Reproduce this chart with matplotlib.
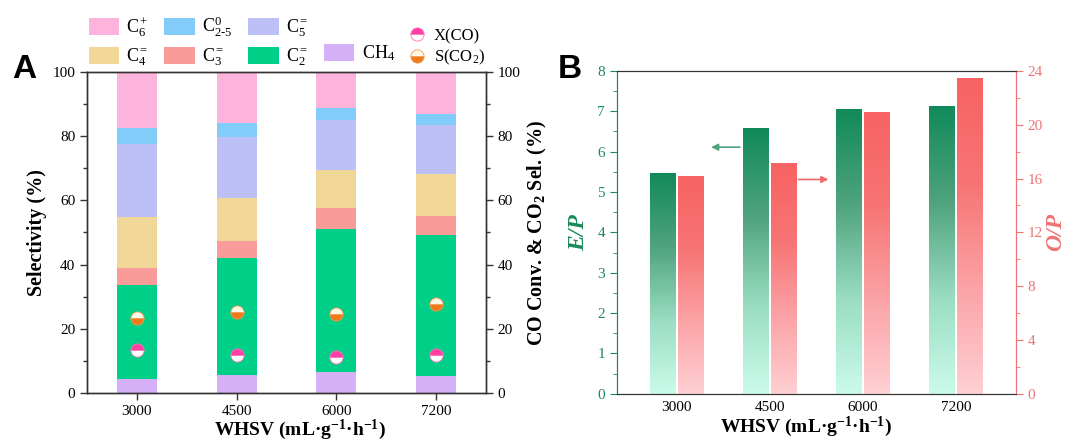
"""
Selectivity vs WHSV (panel A) and E/P, O/P ratios (panel B).
"""

import numpy as np
import matplotlib
matplotlib.use("Agg")
import matplotlib.pyplot as plt
from matplotlib.patches import Patch
from matplotlib.lines import Line2D
from matplotlib.colors import LinearSegmentedColormap

plt.rcParams['font.family'] = ['Liberation Serif', 'DejaVu Serif']
plt.rcParams['mathtext.fontset'] = 'custom'
plt.rcParams['mathtext.rm'] = 'Liberation Serif'
plt.rcParams['mathtext.it'] = 'Liberation Serif:italic'
plt.rcParams['mathtext.bf'] = 'Liberation Serif:bold'
plt.rcParams['mathtext.default'] = 'regular'

# ---- data ----
whsv = ['3000', '4500', '6000', '7200']

# panel A: selectivity segments (%), bottom to top
ch4 = [4.5, 5.7, 6.4, 5.4]
c2_ole = [29.0, 36.4, 44.7, 43.7]
c3_ole = [5.3, 5.4, 6.4, 6.0]
c4_ole = [16.0, 13.3, 11.9, 13.2]
c5_ole = [22.8, 19.1, 15.7, 15.2]
c25_par = [5.0, 4.3, 3.7, 3.5]
c6_plus = [17.4, 15.8, 11.3, 13.0]

x_co = [13.3, 11.7, 11.1, 11.7]
s_co2 = [23.4, 25.2, 24.7, 27.6]

# panel B
e_p = [5.45, 6.58, 7.04, 7.13]
o_p = [16.2, 17.1, 20.9, 23.45]

seg_names = ['CH$_4$', 'C$_2^{=}$', 'C$_3^{=}$', 'C$_4^{=}$', 'C$_5^{=}$',
             'C$_{2\u20105}^0$', 'C$_6^+$']
seg_vals = [ch4, c2_ole, c3_ole, c4_ole, c5_ole, c25_par, c6_plus]
seg_colors = ['#D5B0F7', '#00CF88', '#F99B98', '#F0D697', '#BCC0F7',
              '#82CCFA', '#FDB4DC']

dark = '#333333'
green = '#1B8A5A'
red = '#EE7474'
xlab = 'WHSV (mL\u00b7g$^{-1}$\u00b7h$^{-1}$)'

fig = plt.figure(figsize=(10.67, 4.43), dpi=100)

# ---------------- panel A ----------------
ax = fig.add_axes([0.0815, 0.1129, 0.374, 0.7246])
xa = np.arange(len(whsv))
bottom = np.zeros(len(whsv))
handles = {}
for name, vals, col in zip(seg_names, seg_vals, seg_colors):
    ax.bar(xa, vals, width=0.4, bottom=bottom, color=col, linewidth=0)
    bottom += np.array(vals)
    handles[name] = Patch(facecolor=col, edgecolor='none')

ax.set_xlim(-0.5, 3.5)
ax.set_ylim(0, 100)
ax.set_xticks(xa)
ax.set_xticklabels(whsv)
ax.set_yticks(np.arange(0, 101, 20))
ax.set_yticks(np.arange(10, 100, 20), minor=True)
ax.set_ylabel('Selectivity (%)', fontsize=14.5, fontweight='bold', labelpad=4)
ax.set_xlabel(xlab, fontsize=14, fontweight='bold')
ax.xaxis.set_label_coords(0.534, -0.078)

ax2 = ax.twinx()
ax2.set_ylim(0, 100)
ax2.set_yticks(np.arange(0, 101, 20))
ax2.set_yticks(np.arange(10, 100, 20), minor=True)
ax2.set_ylabel('CO Conv. & CO$_2$ Sel. (%)', fontsize=14.5,
               fontweight='bold', labelpad=4)
ax2.plot(xa, x_co, 'o', ms=9.5, fillstyle='top', color='#FF3FA4',
         markerfacecoloralt='white', mec='#FF6FBA', mew=0.6, zorder=5)
ax2.plot(xa, s_co2, 'o', ms=9.5, fillstyle='bottom', color='#EE7A1C',
         markerfacecoloralt='#FFF8E6', mec='#F29A50', mew=0.6, zorder=5)

for a in (ax, ax2):
    for s in a.spines.values():
        s.set_color(dark)
        s.set_linewidth(1.0)
    a.tick_params(which='both', direction='out', color=dark, labelsize=11,
                  width=1.0)
    a.tick_params(which='major', length=5)
    a.tick_params(which='minor', length=3)

# legend of segments (column-major, blank slot above CH4)
blank = Patch(facecolor='none', edgecolor='none')
order = ['C$_6^+$', 'C$_4^{=}$', 'C$_{2\u20105}^0$', 'C$_3^{=}$',
         'C$_5^{=}$', 'C$_2^{=}$', None, 'CH$_4$']
leg_h = [handles[k] if k else blank for k in order]
leg_l = [k if k else '' for k in order]
fig.legend(leg_h, leg_l, ncol=4, loc='upper left',
           bbox_to_anchor=(0.083, 0.967), frameon=False, fontsize=13,
           handlelength=1.7, handleheight=1.05, columnspacing=0.85,
           handletextpad=0.4, labelspacing=0.4, borderaxespad=0.0,
           borderpad=0.0)

mk_h = [Line2D([], [], ls='none', marker='o', ms=9.5, fillstyle='top',
               color='#FF3FA4', markerfacecoloralt='white', mec='#FF6FBA',
               mew=0.6),
        Line2D([], [], ls='none', marker='o', ms=9.5, fillstyle='bottom',
               color='#EE7A1C', markerfacecoloralt='#FFF8E6', mec='#F29A50',
               mew=0.6)]
fig.legend(mk_h, ['X(CO)', 'S(CO$_2$)'], loc='upper left',
           bbox_to_anchor=(0.383, 0.937), frameon=False, fontsize=12,
           handlelength=1.0, handletextpad=0.5, labelspacing=0.25,
           borderaxespad=0.0, borderpad=0.0)

fig.text(0.011, 0.842, 'A', fontsize=24, fontweight='bold',
         family='Liberation Sans', va='center')

# ---------------- panel B ----------------
bx = fig.add_axes([0.578, 0.111, 0.374, 0.729])
bx2 = bx.twinx()
xb = np.arange(len(whsv))
w = 0.275
off = 0.153

cm_green = LinearSegmentedColormap.from_list(
    'g', ['#CBFBEA', '#9ADDC2', '#4FA37E', '#118A5A'])
cm_red = LinearSegmentedColormap.from_list(
    'r', ['#FFD0D3', '#FBA3A6', '#F77474', '#F86262'])
grad = np.linspace(0, 1, 256).reshape(-1, 1)

gb = bx.bar(xb - off, e_p, width=w, color='none', linewidth=0)
for r in gb:
    x0, h = r.get_x(), r.get_height()
    bx.imshow(grad, extent=[x0, x0 + w, 0, h], origin='lower',
              aspect='auto', cmap=cm_green, zorder=2)
rb = bx2.bar(xb + off, o_p, width=w, color='none', linewidth=0)
for r in rb:
    x0, h = r.get_x(), r.get_height()
    bx2.imshow(grad, extent=[x0, x0 + w, 0, h], origin='lower',
               aspect='auto', cmap=cm_red, zorder=2)

bx.set_xlim(-0.645, 3.645)
bx.set_ylim(0, 8)
bx2.set_ylim(0, 24)
bx.set_xticks(xb)
bx.set_xticklabels(whsv)
bx.set_yticks(np.arange(0, 9, 1))
bx.set_yticks(np.arange(0.5, 8, 1), minor=True)
bx2.set_yticks(np.arange(0, 25, 4))
bx2.set_yticks(np.arange(2, 24, 4), minor=True)

bx.set_xlabel(xlab, fontsize=14, fontweight='bold')
bx.xaxis.set_label_coords(0.474, -0.065)
bx.set_ylabel('E/P', fontsize=17, fontweight='bold', style='italic',
              color=green, labelpad=6)
bx2.set_ylabel('O/P', fontsize=17, fontweight='bold', style='italic',
               color=red, labelpad=2)

for a in (bx, bx2):
    a.spines['top'].set_color(dark)
    a.spines['bottom'].set_color(dark)
    a.spines['left'].set_color(green)
    a.spines['right'].set_color(red)
bx.tick_params(axis='x', length=0, labelsize=11, pad=5)
bx.tick_params(axis='y', which='both', direction='out', color=green,
               labelcolor=green, labelsize=11)
bx.tick_params(axis='y', which='major', length=5)
bx.tick_params(axis='y', which='minor', length=3)
bx2.tick_params(axis='y', which='both', direction='out', color=red,
                labelcolor=red, labelsize=11)
bx2.tick_params(axis='y', which='major', length=5)
bx2.tick_params(axis='y', which='minor', length=3)

# direction arrows
bx.annotate('', xy=(0.34, 6.11), xytext=(0.71, 6.11),
            arrowprops=dict(arrowstyle='-|>', color='#4FA37E', lw=1.2,
                            mutation_scale=10))
bx.annotate('', xy=(1.66, 5.31), xytext=(1.28, 5.31),
            arrowprops=dict(arrowstyle='-|>', color='#EE6A6A', lw=1.2,
                            mutation_scale=10))

fig.text(0.523, 0.842, 'B', fontsize=24, fontweight='bold',
         family='Liberation Sans', va='center')

fig.savefig('out.png', dpi=100)
